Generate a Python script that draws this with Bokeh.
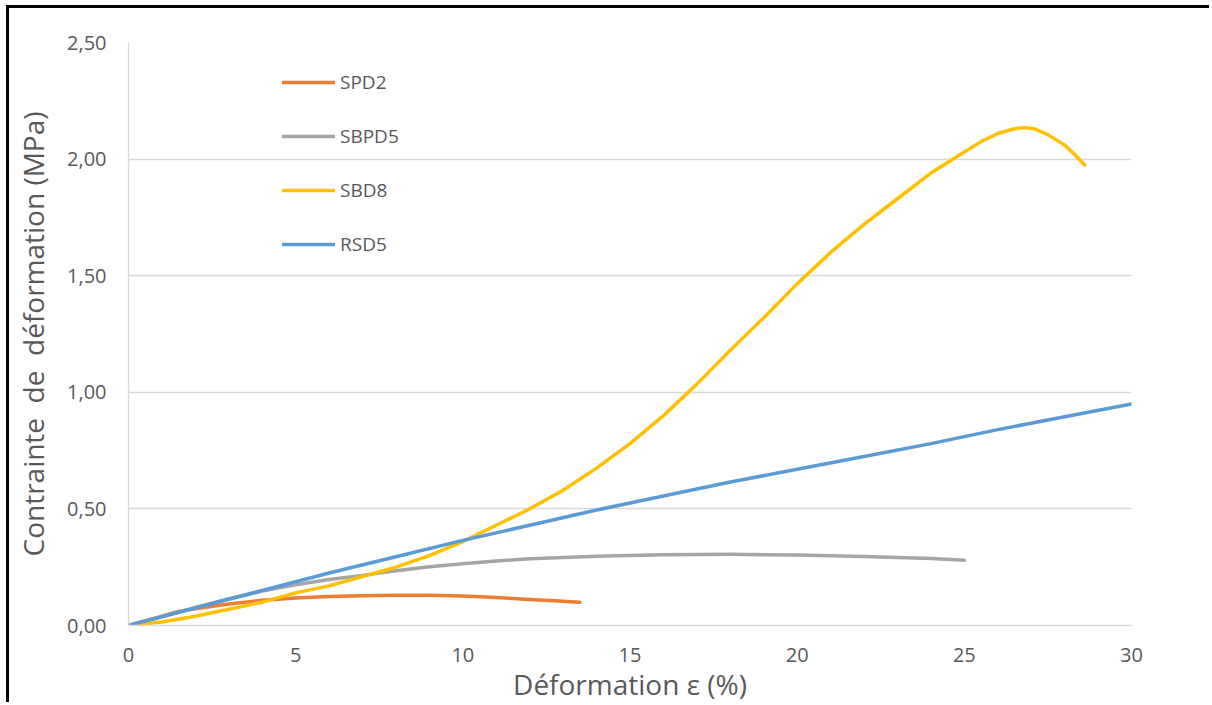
from bokeh.plotting import figure
from bokeh.models import Range1d, Legend, LegendItem, FixedTicker
from bokeh.embed import file_html
from bokeh.resources import INLINE

# ---- data ----
spd2_x = [0, 1, 1.5, 2, 3, 4, 5, 6, 7, 8, 9, 10, 11, 12, 13, 13.5]
spd2_y = [0, 0.04, 0.06, 0.072, 0.092, 0.108, 0.118, 0.124, 0.128, 0.13, 0.13, 0.127, 0.12, 0.112, 0.104, 0.1]

sbpd5_x = [0, 1, 2, 3, 4, 5, 6, 7, 8, 9, 10, 11, 12, 14, 16, 18, 20, 22, 24, 25]
sbpd5_y = [0, 0.038, 0.077, 0.115, 0.148, 0.175, 0.197, 0.215, 0.235, 0.252, 0.265, 0.277, 0.286, 0.297, 0.303, 0.305, 0.302, 0.296, 0.287, 0.28]

sbd8_x = [0, 1, 2, 3, 4, 5, 6, 7, 8, 9, 10, 11, 12, 13, 14, 15, 16, 17, 18, 19, 20, 21, 22, 23, 24,
          25, 25.5, 26, 26.5, 26.8, 27.1, 27.5, 28, 28.3, 28.6]
sbd8_y = [0, 0.015, 0.04, 0.07, 0.1, 0.14, 0.17, 0.21, 0.25, 0.3, 0.36, 0.43, 0.5, 0.58, 0.675, 0.78, 0.9, 1.035, 1.18, 1.32, 1.465, 1.6, 1.72, 1.83, 1.94,
          2.03, 2.075, 2.11, 2.13, 2.135, 2.13, 2.105, 2.06, 2.02, 1.975]

rsd5_x = [0, 2, 4, 6, 8, 10, 12, 14, 16, 18, 20, 22, 24, 26, 28, 30]
rsd5_y = [0, 0.075, 0.15, 0.225, 0.295, 0.365, 0.43, 0.495, 0.555, 0.615, 0.67, 0.725, 0.78, 0.84, 0.895, 0.95]

series_names = ["SPD2", "SBPD5", "SBD8", "RSD5"]
series_colors = ["#ED7D31", "#A5A5A5", "#FFC000", "#5B9BD5"]

x_ticks = [0, 5, 10, 15, 20, 25, 30]
y_ticks = [0, 0.5, 1.0, 1.5, 2.0, 2.5]
y_tick_labels = ["0,00", "0,50", "1,00", "1,50", "2,00", "2,50"]

x_title = "Déformation ε (%)"
y_title = "Contrainte \u00a0de \u00a0déformation (MPa)"

FONT = "Open Sans"
TXT = "#595959"

p = figure(width=1203, height=697, output_backend="svg", toolbar_location=None,
           x_range=Range1d(0, 30), y_range=Range1d(0, 2.5),
           min_border_left=119, min_border_right=81, min_border_top=34, min_border_bottom=78)
p.outline_line_color = None
p.background_fill_color = "white"
p.border_fill_color = "white"

# grid
p.xgrid.grid_line_color = None
p.ygrid.grid_line_color = "#D9D9D9"
p.ygrid.grid_line_width = 1.3
p.ygrid.ticker = FixedTicker(ticks=y_ticks)

# axes
p.xaxis.ticker = FixedTicker(ticks=x_ticks)
p.yaxis.ticker = FixedTicker(ticks=y_ticks)
p.yaxis.major_label_overrides = {t: l for t, l in zip(y_ticks, y_tick_labels)}
for ax in (p.xaxis[0], p.yaxis[0]):
    ax.major_tick_line_color = None
    ax.minor_tick_line_color = None
    ax.axis_line_color = "#D9D9D9"
    ax.axis_line_width = 1.3
    ax.major_label_text_font = FONT
    ax.major_label_text_font_size = "20px"
    ax.major_label_text_color = TXT
    ax.axis_label_text_font = FONT
    ax.axis_label_text_font_size = "28px"
    ax.axis_label_text_font_style = "normal"
    ax.axis_label_text_color = TXT
p.xaxis.axis_label = x_title
p.yaxis.axis_label = y_title
p.xaxis.major_label_standoff = 16
p.xaxis.axis_label_standoff = 0
p.yaxis.major_label_standoff = 16
p.yaxis.axis_label_standoff = 12

xs = [spd2_x, sbpd5_x, sbd8_x, rsd5_x]
ys = [spd2_y, sbpd5_y, sbd8_y, rsd5_y]
items = []
for name, color, x, y in zip(series_names, series_colors, xs, ys):
    r = p.line(x, y, line_color=color, line_width=3.5, line_cap="round", line_join="round")
    items.append(LegendItem(label=name, renderers=[r]))

legend = Legend(items=items, location=(154, 368), orientation="vertical",
                background_fill_alpha=0, border_line_color=None,
                padding=0, margin=0, spacing=28, glyph_width=53, glyph_height=26,
                label_height=26, label_standoff=5,
                label_text_font=FONT, label_text_font_size="19px", label_text_color=TXT)
p.add_layout(legend)

# black frame (top and left edges) around the chart, as in the reference
p.styles = {"border-top": "3px solid black", "border-left": "3px solid black",
            "margin-top": "5px", "margin-left": "6px"}

open("out.html", "w").write(file_html(p, INLINE))
